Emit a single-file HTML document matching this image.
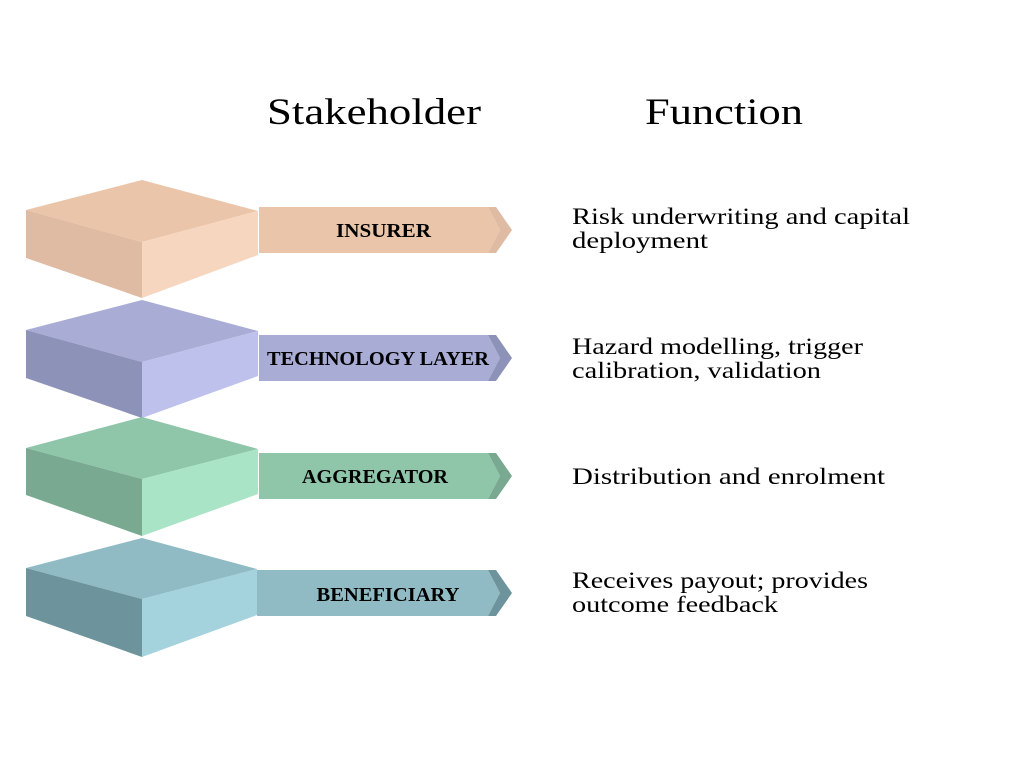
<!DOCTYPE html>
<html><head><meta charset="utf-8"><style>html,body{margin:0;padding:0;background:#fff}svg{display:block}</style></head>
<body>
<svg width="1024" height="768" viewBox="0 0 1024 768" xmlns="http://www.w3.org/2000/svg" font-family="'Liberation Serif', serif">
<text x="267" y="124" font-size="37" textLength="214" lengthAdjust="spacingAndGlyphs" fill="#000">Stakeholder</text>
<text x="645" y="124" font-size="37" textLength="158" lengthAdjust="spacingAndGlyphs" fill="#000">Function</text>

<g>
<polygon points="26,210 142,180 258,211 142,242" fill="#eac5aa"/>
<polygon points="26,210 142,242 142,298 26,258" fill="#dfbba4"/>
<polygon points="142,242 258,211 258,255 142,298" fill="#f7d6c0"/>
<polygon points="259,207 488,207 500,230 488,253 259,253" fill="#eac5aa"/>
<polygon points="488,207 496,207 512,230 496,253 488,253 500,230" fill="#dfbba4"/>
<text x="336" y="237" font-size="20" font-weight="bold" textLength="95" lengthAdjust="spacingAndGlyphs">INSURER</text>
</g>
<g>
<polygon points="26,330 142,300 258,331 142,362" fill="#a9acd5"/>
<polygon points="26,330 142,362 142,418 26,378" fill="#8d92b8"/>
<polygon points="142,362 258,331 258,376 142,418" fill="#bec1ec"/>
<polygon points="259,335 488,335 500,358 488,381 259,381" fill="#a9acd5"/>
<polygon points="488,335 496,335 512,358 496,381 488,381 500,358" fill="#8d92b8"/>
<text x="378" y="365" font-size="20" font-weight="bold" text-anchor="middle" textLength="222" lengthAdjust="spacingAndGlyphs">TECHNOLOGY LAYER</text>
</g>
<g>
<polygon points="26,448 142,417 258,449 142,479" fill="#8fc6aa"/>
<polygon points="26,448 142,479 142,536 26,495" fill="#79a990"/>
<polygon points="142,479 258,449 258,494 142,536" fill="#a9e4c6"/>
<polygon points="259,453 488,453 500,476 488,499 259,499" fill="#8fc6aa"/>
<polygon points="488,453 496,453 512,476 496,499 488,499 500,476" fill="#79a990"/>
<text x="375" y="483" font-size="20" font-weight="bold" text-anchor="middle" textLength="146" lengthAdjust="spacingAndGlyphs">AGGREGATOR</text>
</g>
<g>
<polygon points="26,568 142,538 257,569 142,599" fill="#90bbc4"/>
<polygon points="26,568 142,599 142,657 26,616" fill="#6d949c"/>
<polygon points="142,599 257,569 257,615 142,657" fill="#a4d2dd"/>
<polygon points="257,570 488,570 500,593 488,616 257,616" fill="#90bbc4"/>
<polygon points="488,570 496,570 512,593 496,616 488,616 500,593" fill="#6d949c"/>
<text x="388" y="601" font-size="20" font-weight="bold" text-anchor="middle" textLength="143" lengthAdjust="spacingAndGlyphs">BENEFICIARY</text>
</g>

<g font-size="23" fill="#000">
<text x="572" y="224" textLength="338" lengthAdjust="spacingAndGlyphs">Risk underwriting and capital</text>
<text x="572" y="248" textLength="136" lengthAdjust="spacingAndGlyphs">deployment</text>
<text x="572" y="354" textLength="291" lengthAdjust="spacingAndGlyphs">Hazard modelling, trigger</text>
<text x="572" y="378" textLength="249" lengthAdjust="spacingAndGlyphs">calibration, validation</text>
<text x="572" y="484" textLength="313" lengthAdjust="spacingAndGlyphs">Distribution and enrolment</text>
<text x="572" y="588" textLength="296" lengthAdjust="spacingAndGlyphs">Receives payout; provides</text>
<text x="572" y="612" textLength="206" lengthAdjust="spacingAndGlyphs">outcome feedback</text>
</g>
</svg>
</body></html>
